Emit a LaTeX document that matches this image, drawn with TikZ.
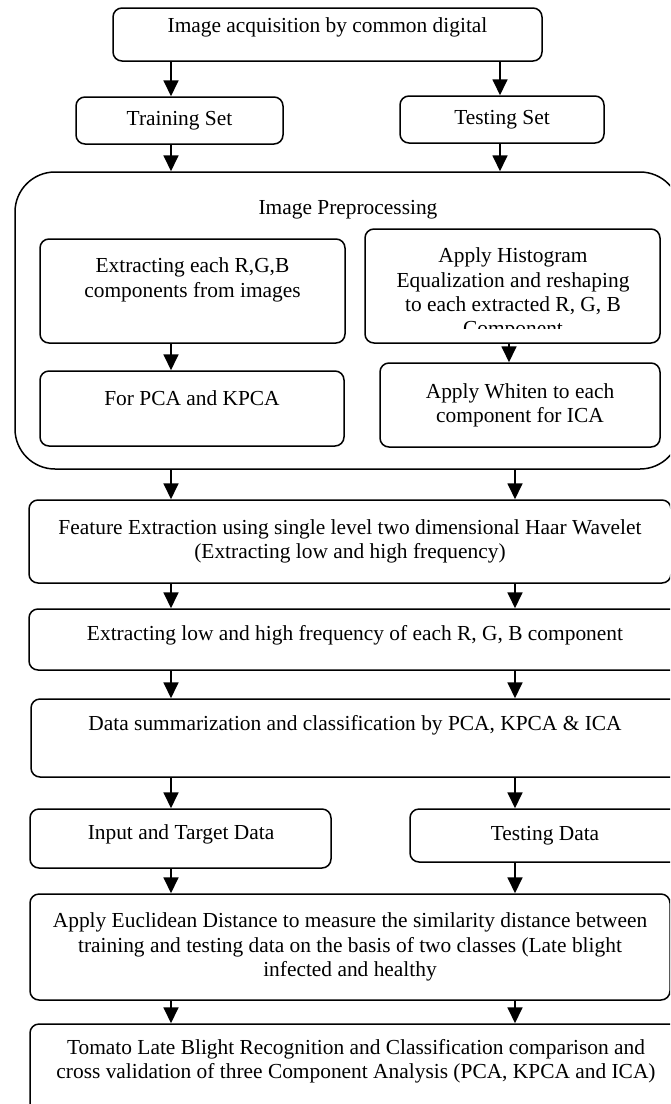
\documentclass[tikz,border=0pt]{standalone}
\usepackage{fontspec}
\setmainfont{Liberation Serif}
\usetikzlibrary{positioning,arrows.meta}

\begin{document}
\begin{tikzpicture}[
	x=1pt, y=-1pt,
	box/.style={draw, line width=1.5pt, rounded corners=9pt, inner sep=0pt, align=center},
	bigbox/.style={draw, line width=1.5pt, rounded corners=40pt, inner sep=0pt},
	txt/.style={inner sep=0pt, align=center},
	arr/.style={line width=1.8pt, -{Triangle[length=16pt,width=15pt]}},
	every node/.style={font=\fontsize{21.4}{24.3}\selectfont}]
	\clip (0,0) rectangle (670,1104);
	% columns of the arrows
	\coordinate (cl) at (171,0);
	\coordinate (cr) at (500,0);
	\coordinate (ci) at (509,0);
	\coordinate (cR) at (515,0);

	\node[box, minimum width=429, minimum height=53] (top) at (327.5,34.5) {};
	\node[txt] (top-t) at (327.5,27) {Image acquisition by common digital};
	\node[box, minimum width=207, minimum height=47] (train) at (179.5,120.5) {Training Set};
	\node[box, minimum width=204, minimum height=47] (test) at (502,119.5) {Testing Set};

	% preprocessing block
	\node[bigbox, minimum width=665, minimum height=297] (prep) at (347.5,320.5) {};
	\node[txt] (prep-t) at (348,210) {Image Preprocessing};
	\node[box, minimum width=305, minimum height=104] (ext) at (192.5,291) {};
	\node[txt] (ext-t) at (192.5,280) {Extracting each R,G,B\\components from images};
	\node[box, minimum width=295, minimum height=114] (hist) at (512.5,286) {};
	\begin{scope}
		\clip (365,229) rectangle (660,328);
		\node[txt] (hist-t) at (513,294) {Apply Histogram\\Equalization and reshaping\\to each extracted R, G, B\\Component};
	\end{scope}
	\node[box, minimum width=304, minimum height=75] (pca) at (192,408.5) {};
	\node[txt] (pca-t) at (192,398) {For PCA and KPCA};
	\node[box, minimum width=280, minimum height=84] (whiten) at (520,405) {Apply Whiten to each\\component for ICA};

	\node[box, minimum width=642, minimum height=83] (feat) at (350,541.5) {Feature Extraction using single level two dimensional Haar Wavelet\\(Extracting low and high frequency)};
	\node[box, minimum width=651, minimum height=61] (low) at (354.5,639.5) {};
	\node[txt] (low-t) at (355,635) {Extracting low and high frequency of each R, G, B component};
	\node[box, minimum width=649, minimum height=78] (summ) at (355.5,738) {};
	\node[txt] (summ-t) at (355,725) {Data summarization and classification by PCA, KPCA \& ICA};

	\node[box, minimum width=301, minimum height=59] (inp) at (180.5,838.5) {};
	\node[txt] (inp-t) at (181,834) {Input and Target Data};
	\node[box, minimum width=270, minimum height=53] (tdata) at (545,835.5) {Testing Data};
	\node[box, minimum width=640, minimum height=106] (eucl) at (350,947) {Apply Euclidean Distance to measure the similarity distance between\\training and testing data on the basis of two classes (Late blight\\infected and healthy};
	\node[box, minimum width=660, minimum height=100] (tom) at (360,1074) {};
	\node[txt] (tom-t) at (356,1061) {Tomato Late Blight Recognition and Classification comparison and\\cross validation of three Component Analysis (PCA, KPCA and ICA)};

	% arrows
	\draw[arr] (top.south -| cl) -- (train.north -| cl);
	\draw[arr] (top.south -| cr) -- (test.north -| cr);
	\draw[arr] (train.south -| cl) -- (prep.north -| cl);
	\draw[arr] (test.south -| cr) -- (prep.north -| cr);
	\draw[arr] (ext.south -| cl) -- (pca.north -| cl);
	\draw[arr] (hist.south -| ci) -- (whiten.north -| ci);
	\draw[arr] (prep.south -| cl) -- (feat.north -| cl);
	\draw[arr] (prep.south -| cR) -- (feat.north -| cR);
	\draw[arr] (feat.south -| cl) -- (low.north -| cl);
	\draw[arr] (feat.south -| cR) -- (low.north -| cR);
	\draw[arr] (low.south -| cl) -- (summ.north -| cl);
	\draw[arr] (low.south -| cR) -- (summ.north -| cR);
	\draw[arr] (summ.south -| cl) -- (inp.north -| cl);
	\draw[arr] (summ.south -| cR) -- (tdata.north -| cR);
	\draw[arr] (inp.south -| cl) -- (eucl.north -| cl);
	\draw[arr] (tdata.south -| cR) -- (eucl.north -| cR);
	\draw[arr] (eucl.south -| cl) -- (tom.north -| cl);
	\draw[arr] (eucl.south -| cR) -- (tom.north -| cR);
\end{tikzpicture}
\end{document}
